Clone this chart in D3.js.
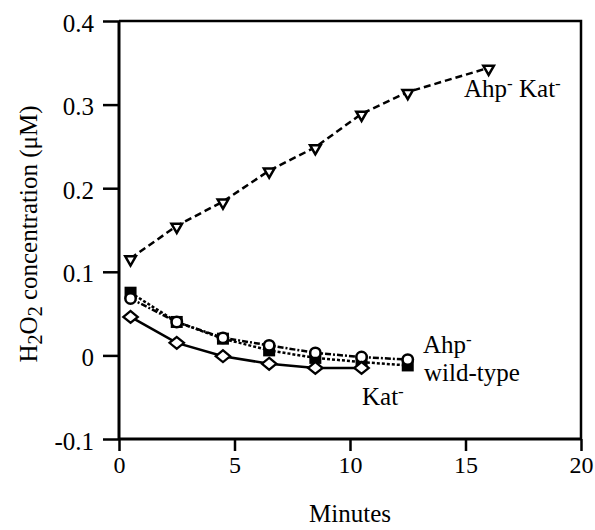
<!DOCTYPE html>
<html>
<head>
<meta charset="utf-8">
<script src="https://cdn.jsdelivr.net/npm/d3@7/dist/d3.min.js"></script>
<style>
  body { margin: 0; background: #fff; }
</style>
</head>
<body>
<div id="chart"></div>
<script>
// minutes sampled for each strain
const minutesAhpKat = [0.5, 2.5, 4.5, 6.5, 8.5, 10.5, 12.5, 16];
const minutesWild = [0.5, 2.5, 4.5, 6.5, 8.5, 10.5, 12.5];
const minutesAhp = [0.5, 2.5, 4.5, 6.5, 8.5, 10.5, 12.5];
const minutesKat = [0.5, 2.5, 4.5, 6.5, 8.5, 10.5];

// H2O2 (uM)
const h2o2AhpKat = [0.116, 0.155, 0.184, 0.221, 0.249, 0.289, 0.315, 0.344];
const h2o2Wild = [0.075, 0.040, 0.020, 0.006, -0.003, -0.008, -0.012];
const h2o2Ahp = [0.068, 0.040, 0.021, 0.012, 0.003, -0.002, -0.005];
const h2o2Kat = [0.046, 0.015, -0.001, -0.010, -0.015, -0.015];

const xTicks = [0, 5, 10, 15, 20];
const yTicks = [-0.1, 0, 0.1, 0.2, 0.3, 0.4];
const yTickLabels = ['-0.1', '0', '0.1', '0.2', '0.3', '0.4'];

const FONT = 'Liberation Serif';
const width = 595, height = 530;
const margin = {top: 21, right: 14, bottom: 91, left: 119};

const svg = d3.select('#chart').append('svg')
    .attr('width', width)
    .attr('height', height);

const x = d3.scaleLinear().domain([0, 20]).range([margin.left, width - margin.right]);
const y = d3.scaleLinear().domain([-0.1, 0.4]).range([height - margin.bottom, margin.top]);

// top and right frame lines
svg.append('path')
    .attr('d', `M${x(0)},${y(0.4)}H${x(20)}V${y(-0.1)}`)
    .attr('fill', 'none')
    .attr('stroke', '#000').attr('stroke-width', 2.5);

const xAxis = svg.append('g')
    .attr('transform', `translate(0,${y(-0.1)})`)
    .call(d3.axisBottom(x).tickValues(xTicks).tickSize(12).tickFormat(d3.format('d')));
xAxis.attr('font-family', FONT).attr('font-size', 24);
xAxis.select('.domain').attr('stroke-width', 3).attr('d', `M${x(0)},0H${x(20)}`);
xAxis.selectAll('.tick line').attr('stroke-width', 2.5);
xAxis.selectAll('.tick text').attr('font-family', FONT).attr('font-size', 24)
    .attr('y', 34).attr('dy', null);

const yAxis = svg.append('g')
    .attr('transform', `translate(${x(0)},0)`)
    .call(d3.axisLeft(y).tickValues(yTicks).tickSize(16).tickPadding(9)
        .tickFormat((d, i) => yTickLabels[i]));
yAxis.attr('font-family', FONT).attr('font-size', 25);
yAxis.select('.domain').attr('stroke-width', 3).attr('d', `M0,${y(-0.1)}V${y(0.4)}`);
yAxis.selectAll('.tick line').attr('stroke-width', 2.5);
yAxis.selectAll('.tick text').attr('font-family', FONT).attr('font-size', 25)
    .attr('dy', 10);

// axis titles
svg.append('text')
    .attr('x', x(10)).attr('y', 522)
    .attr('text-anchor', 'middle')
    .attr('font-family', FONT).attr('font-size', 25)
    .text('Minutes');

const yl = svg.append('text')
    .attr('transform', `translate(37,234) rotate(-90)`)
    .attr('text-anchor', 'middle')
    .attr('font-family', FONT).attr('font-size', 25);
yl.append('tspan').text('H');
yl.append('tspan').attr('baseline-shift', '-25%').attr('font-size', 20).text('2');
yl.append('tspan').text('O');
yl.append('tspan').attr('baseline-shift', '-25%').attr('font-size', 20).text('2');
yl.append('tspan').text(' concentration (μM)');

const line = d3.line().x(d => x(d[0])).y(d => y(d[1]));

function series(xs, ys, dash) {
    const pts = xs.map((v, i) => [v, ys[i]]);
    svg.append('path')
        .datum(pts)
        .attr('d', line)
        .attr('fill', 'none')
        .attr('stroke', '#000')
        .attr('stroke-width', 2.5)
        .attr('stroke-dasharray', dash);
    return pts;
}

const ptsWild = series(minutesWild, h2o2Wild, '3,2');
const ptsAhp = series(minutesAhp, h2o2Ahp, '6,2,2,2');
const ptsKat = series(minutesKat, h2o2Kat, null);
const ptsAhpKat = series(minutesAhpKat, h2o2AhpKat, '7,4');

// markers
svg.selectAll('.sq').data(ptsWild).join('rect')
    .attr('x', d => x(d[0]) - 6).attr('y', d => y(d[1]) - 6)
    .attr('width', 12).attr('height', 12)
    .attr('fill', '#000');

svg.selectAll('.ci').data(ptsAhp).join('circle')
    .attr('cx', d => x(d[0])).attr('cy', d => y(d[1]))
    .attr('r', 5.2)
    .attr('fill', '#fff').attr('stroke', '#000').attr('stroke-width', 2.5);

svg.selectAll('.di').data(ptsKat).join('path')
    .attr('d', d3.symbol(d3.symbolDiamond2, 110))
    .attr('transform', d => `translate(${x(d[0])},${y(d[1])}) scale(1.1,0.9)`)
    .attr('fill', '#fff').attr('stroke', '#000').attr('stroke-width', 2.3);

svg.selectAll('.tr').data(ptsAhpKat).join('path')
    .attr('d', d3.symbol(d3.symbolTriangle2, 80))
    .attr('transform', d => `translate(${x(d[0])},${y(d[1]) + 1}) rotate(180)`)
    .attr('fill', '#fff').attr('stroke', '#000').attr('stroke-width', 2.5);

// series labels
function label(px, py, parts) {
    const t = svg.append('text').attr('x', px).attr('y', py)
        .attr('font-family', FONT).attr('font-size', 25);
    parts.forEach(p => {
        if (p === '-') t.append('tspan').attr('baseline-shift', '45%').attr('font-size', 17).text('-');
        else t.append('tspan').text(p);
    });
}
label(464, 97, ['Ahp', '-', ' Kat', '-']);
label(423, 353, ['Ahp', '-']);
label(424, 381, ['wild-type']);
label(362, 405, ['Kat', '-']);
</script>
</body>
</html>
